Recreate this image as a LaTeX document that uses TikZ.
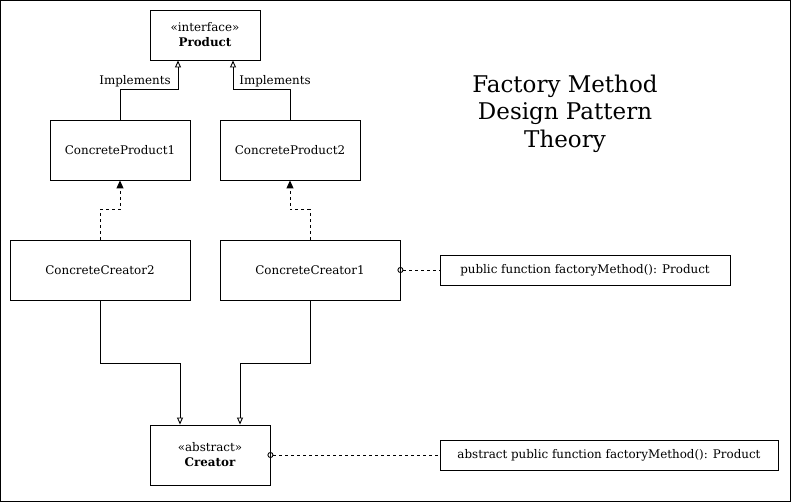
\documentclass[tikz,border=0pt]{standalone}
\usepackage{fontspec}
\setmainfont{DejaVu Serif}
\usetikzlibrary{arrows.meta}

\begin{document}
\begin{tikzpicture}[x=1pt, y=-1pt, line width=0.9pt,
  every node/.style={draw, rectangle, inner sep=1pt, align=center, font=\fontsize{11.9}{15}\selectfont},
  lbl/.style={draw=none},
  implements/.style={-{Triangle[open, length=7pt, width=6pt]}},
  uses/.style={dash pattern=on 3pt off 3pt, -{Triangle[length=8pt, width=7pt]}},
  note/.style={dash pattern=on 3pt off 3pt, {Circle[open, length=6pt]}-, shorten <=-3pt}]
  \useasboundingbox (0,0) rectangle (791,502);
  \draw (0.5,0.5) rectangle (790.5,501.5);

  \node[minimum width=110pt, minimum height=50pt] (product) at (205,35) {«interface»\\\textbf{Product}};
  \node[minimum width=140pt, minimum height=60pt] (cp1) at (120,150) {ConcreteProduct1};
  \node[minimum width=140pt, minimum height=60pt] (cp2) at (290,150) {ConcreteProduct2};
  \node[minimum width=180pt, minimum height=60pt] (cc2) at (100,270) {ConcreteCreator2};
  \node[minimum width=180pt, minimum height=60pt] (cc1) at (310,270) {ConcreteCreator1};
  \node[minimum width=290pt, minimum height=30pt] (note1) at (585,270) {public function factoryMethod(): Product};
  \node[minimum width=120pt, minimum height=60pt] (creator) at (210,455) {«abstract»\\\textbf{Creator}};
  \node[minimum width=338pt, minimum height=30pt] (note2) at (609,455) {abstract public function factoryMethod(): Product};
  \node[lbl, font=\fontsize{23}{27.5}\selectfont] (title) at (565,113.5) {Factory Method\\Design Pattern\\Theory};

  \node[lbl] (impl1) at (135,81.5) {Implements};
  \node[lbl] (impl2) at (275,81.5) {Implements};

  \draw[implements] (cp1.north) -- ++(0,-30) -| ([xshift=-27pt]product.south);
  \draw[implements] (cp2.north) -- ++(0,-30) -| ([xshift=28pt]product.south);
  \draw[uses] (cc2.north) -- ++(0,-30) -| (cp1.south);
  \draw[uses] (cc1.north) -- ++(0,-30) -| (cp2.south);
  \draw[implements] (cc2.south) -- ++(0,63) -| ([xshift=-30pt]creator.north);
  \draw[implements] (cc1.south) -- ++(0,63) -| ([xshift=30pt]creator.north);
  \draw[note] (cc1.east) -- (note1.west);
  \draw[note] (creator.east) -- (note2.west);
\end{tikzpicture}
\end{document}
